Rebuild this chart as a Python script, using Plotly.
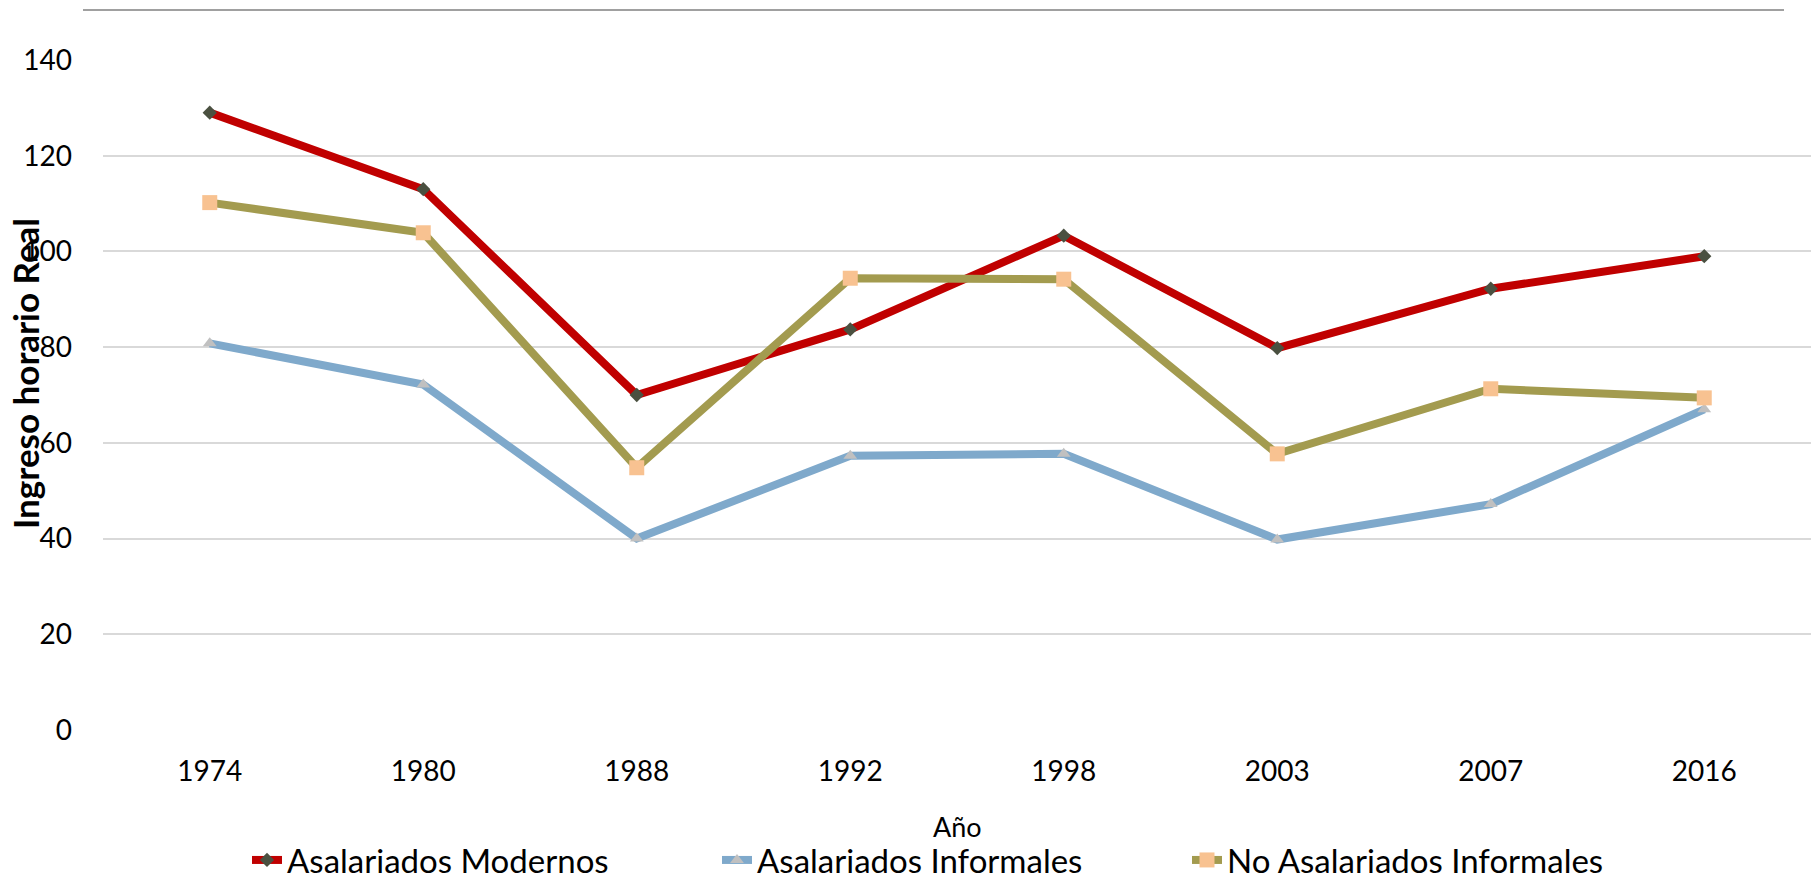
import plotly.graph_objects as go

years = ["1974", "1980", "1988", "1992", "1998", "2003", "2007", "2016"]
modernos = [129.0, 113.0, 70.0, 83.7, 103.3, 79.8, 92.2, 99.0]
informales = [80.8, 72.2, 40.0, 57.3, 57.7, 39.8, 47.2, 67.0]
no_asalariados = [110.2, 103.9, 54.8, 94.4, 94.2, 57.7, 71.3, 69.4]

series_names = ["Asalariados Modernos", "Asalariados Informales", "No Asalariados Informales"]
y_ticks = [0, 20, 40, 60, 80, 100, 120, 140]

FONT = "Lato"
W, H = 1819, 880
L, R, T, B = 103, 8, 60, 150
PW, PH = W - L - R, H - T - B

fig = go.Figure()
fig.add_trace(go.Scatter(
    x=years, y=modernos, name=series_names[0], mode="lines+markers",
    line=dict(color="#c00000", width=8),
    marker=dict(symbol="diamond", size=11, color="#4a5040"),
))
fig.add_trace(go.Scatter(
    x=years, y=informales, name=series_names[1], mode="lines+markers",
    line=dict(color="#7fa9cb", width=8),
    marker=dict(symbol="triangle-up", size=12, color="#c0c0c0"),
))
fig.add_trace(go.Scatter(
    x=years, y=no_asalariados, name=series_names[2], mode="lines+markers",
    line=dict(color="#a39b4f", width=8),
    marker=dict(symbol="square", size=15, color="#f8c291"),
))

fig.update_layout(
    width=W, height=H,
    margin=dict(l=L, r=R, t=T, b=B),
    paper_bgcolor="white", plot_bgcolor="white",
    font=dict(family=FONT, size=28, color="#000000"),
    showlegend=True,
    legend=dict(
        orientation="h", xref="paper", yref="container",
        x=(247 - L) / PW, xanchor="left", y=(H - 860) / H, yanchor="middle",
        font=dict(family=FONT, size=33, color="#000000"),
        entrywidth=425, entrywidthmode="pixels",
        bgcolor="rgba(0,0,0,0)",
    ),
    xaxis=dict(
        type="category", range=[-0.5, 7.5], showgrid=False, showline=False,
        zeroline=False, ticks="", tickfont=dict(size=28, family=FONT),
        ticklabelstandoff=22,
    ),
    yaxis=dict(
        range=[0, 140], tickvals=y_ticks, showgrid=True, gridcolor="#d9d9d9",
        gridwidth=2, zeroline=False, showline=False, ticks="",
        tickfont=dict(size=28, family=FONT), ticklabelstandoff=30,
    ),
    annotations=[
        dict(text="Año", xref="paper", yref="paper", x=(957 - L) / PW, y=(730 - 826) / PH,
             xanchor="center", yanchor="middle", showarrow=False,
             font=dict(family=FONT, size=27)),
        dict(text="<b>Ingreso horario Real</b>", xref="paper", yref="paper",
             x=(25 - L) / PW, y=(730 - 374) / PH, xanchor="center", yanchor="middle",
             textangle=-90, showarrow=False, font=dict(family=FONT, size=35)),
    ],
    shapes=[
        dict(type="line", xref="paper", yref="paper",
             x0=(83 - L) / PW, x1=(1784 - L) / PW,
             y0=(730 - 10) / PH, y1=(730 - 10) / PH,
             line=dict(color="#a0a0a0", width=2)),
    ],
)

fig.write_html("out.html", config={"displayModeBar": False},
               post_script="document.body.style.margin='0px';")
